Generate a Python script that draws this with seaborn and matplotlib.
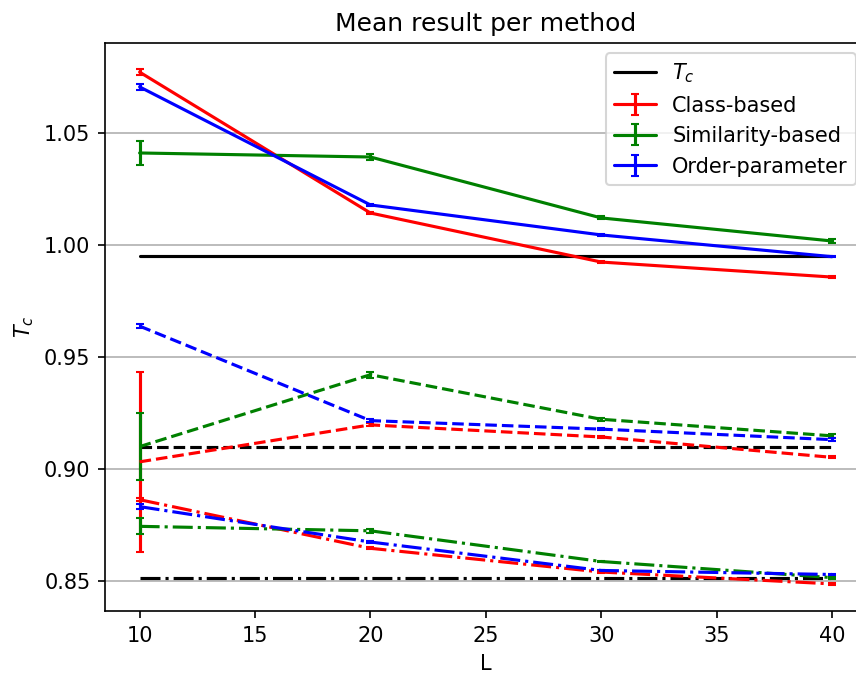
import matplotlib
matplotlib.use("Agg")
import matplotlib.pyplot as plt
import seaborn as sns
import numpy as np
import pandas as pd

# System sizes
L = [10, 20, 30, 40]

# Exact critical temperatures for the three models (solid, dashed, dash-dot)
tc_solid = 0.995
tc_dashed = 0.910
tc_dashdot = 0.8512

# Class-based estimates
class_solid = [1.0772, 1.0143, 0.9924, 0.9857]
class_solid_err = [0.0012, 0.0006, 0.0003, 0.0004]
class_dashed = [0.9032, 0.9197, 0.9143, 0.9052]
class_dashed_err = [0.0402, 0.0007, 0.0005, 0.0004]
class_dashdot = [0.8863, 0.8646, 0.8540, 0.8487]
class_dashdot_err = [0.0008, 0.0004, 0.0003, 0.0003]

# Similarity-based estimates
sim_solid = [1.0411, 1.0393, 1.0121, 1.0018]
sim_solid_err = [0.0053, 0.0015, 0.0007, 0.0008]
sim_dashed = [0.9100, 0.9421, 0.9222, 0.9148]
sim_dashed_err = [0.0149, 0.0014, 0.0006, 0.0008]
sim_dashdot = [0.8744, 0.8724, 0.8587, 0.8515]
sim_dashdot_err = [0.0036, 0.0008, 0.0004, 0.0004]

# Order-parameter estimates
order_solid = [1.0706, 1.0179, 1.0045, 0.9948]
order_solid_err = [0.0014, 0.0005, 0.0004, 0.0003]
order_dashed = [0.9638, 0.9216, 0.9178, 0.9131]
order_dashed_err = [0.0009, 0.0008, 0.0005, 0.0006]
order_dashdot = [0.8832, 0.8674, 0.8547, 0.8529]
order_dashdot_err = [0.0012, 0.0005, 0.0004, 0.0004]

sns.set_style("ticks", rc={
    "axes.edgecolor": "black",
    "xtick.color": "black",
    "ytick.color": "black",
    "axes.labelcolor": "black",
    "text.color": "black",
    "axes.grid": False,
})
plt.rcParams["font.family"] = ["DejaVu Sans"]
plt.rcParams["font.size"] = 10
plt.rcParams["mathtext.fontset"] = "dejavusans"

fig = plt.figure(figsize=(857 / 150, 675 / 150), dpi=150)
ax = fig.add_axes([105 / 857, 64 / 675, 761.6 / 857, 568 / 675])

# Reference critical temperature lines
tc_df = pd.DataFrame({
    "L": L * 3,
    "Tc": [tc_solid] * 4 + [tc_dashed] * 4 + [tc_dashdot] * 4,
    "model": ["solid"] * 4 + ["dashed"] * 4 + ["dashdot"] * 4,
})
styles = {"solid": "-", "dashed": "--", "dashdot": "-."}
for i, (name, ls) in enumerate(styles.items()):
    sub = tc_df[tc_df["model"] == name]
    sns.lineplot(data=sub, x="L", y="Tc", ax=ax, color="black", linestyle=ls,
                 linewidth=1.5, label="$T_c$" if i == 0 else None, legend=False)

methods = [
    ("Class-based", "red",
     [(class_solid, class_solid_err), (class_dashed, class_dashed_err), (class_dashdot, class_dashdot_err)]),
    ("Similarity-based", "green",
     [(sim_solid, sim_solid_err), (sim_dashed, sim_dashed_err), (sim_dashdot, sim_dashdot_err)]),
    ("Order-parameter", "blue",
     [(order_solid, order_solid_err), (order_dashed, order_dashed_err), (order_dashdot, order_dashdot_err)]),
]
for label, color, series in methods:
    for j, ((vals, errs), ls) in enumerate(zip(series, styles.values())):
        ax.errorbar(L, vals, yerr=errs, color=color, linestyle=ls, linewidth=1.5,
                    capsize=2, elinewidth=1.5, label=label if j == 0 else None)

ax.set_xlim(8.5, 41.5)
ax.set_ylim(0.8366, 1.0902)
ax.set_yticks([0.85, 0.90, 0.95, 1.00, 1.05])
ax.set_xticks([10, 15, 20, 25, 30, 35, 40])
ax.yaxis.grid(True, color="#b0b0b0", linewidth=0.8)
ax.set_axisbelow(True)
ax.set_xlabel("L")
ax.set_ylabel("$T_c$")
ax.set_title("Mean result per method")
ax.tick_params(direction="out", length=3.5, width=0.8)
for s in ax.spines.values():
    s.set_linewidth(0.8)

ax.legend(loc="upper right", fontsize=10)

fig.savefig("out.png", dpi=150)
